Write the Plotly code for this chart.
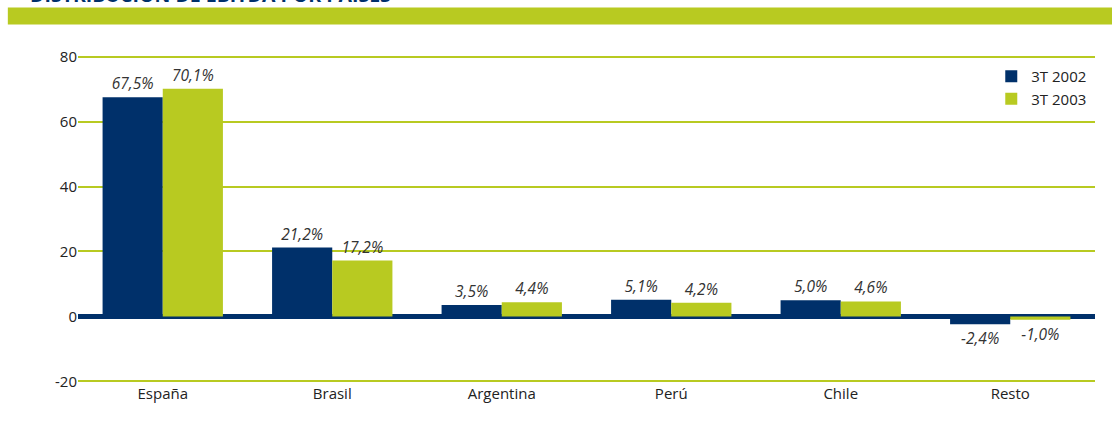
import plotly.graph_objects as go

paises = ["España", "Brasil", "Argentina", "Perú", "Chile", "Resto"]
t2002 = [67.5, 21.2, 3.5, 5.1, 5.0, -2.4]
t2003 = [70.1, 17.2, 4.4, 4.2, 4.6, -1.0]
tick_vals = [-20, 0, 20, 40, 60, 80]
tick_text = ["-20", "0", "20", "40", "60", "80"]

NAVY = "#00306A"
GREEN = "#B8CA21"

label_font = dict(size=15.5, color="#333333", style="italic", family="Open Sans")

fig = go.Figure()
fig.add_trace(go.Bar(x=paises, y=t2002, name="3T 2002", marker_color=NAVY,
                     marker_line_width=0,
                     texttemplate="%{y:.1f}%", textposition="outside",
                     textfont=label_font, cliponaxis=False))
fig.add_trace(go.Bar(x=paises, y=t2003, name="3T 2003", marker_color=GREEN,
                     marker_line_width=0,
                     texttemplate="%{y:.1f}%", textposition="outside",
                     textfont=label_font, cliponaxis=False))

# title band (page header)
fig.add_shape(type="rect", xref="paper", yref="paper",
              x0=-0.069, x1=1.02, y0=1.0929, y1=1.1449,
              fillcolor=GREEN, line_width=0, layer="below")
fig.add_annotation(text="<b>DISTRIBUCIÓN DE EBITDA POR PAÍSES</b>",
                   xref="paper", yref="paper", x=-0.049, y=1.138,
                   xanchor="left", yanchor="bottom", showarrow=False,
                   font=dict(size=19.5, color=NAVY, family="Open Sans"))

fig.update_layout(
    width=1112, height=437,
    margin=dict(l=78, r=17, t=55, b=54, autoexpand=False),
    plot_bgcolor="white", paper_bgcolor="white",
    barmode="group", bargap=0.29, bargroupgap=0,
    separators=",.",
    font=dict(family="Open Sans", size=15, color="#222222"),
    legend=dict(x=0.898, y=0.985, xanchor="left", yanchor="top",
                bgcolor="rgba(0,0,0,0)", font=dict(size=15, color="#222222"),
                itemwidth=30, tracegroupgap=4),
    showlegend=True,
)
fig.update_yaxes(range=[-20.5, 80.5], tickvals=tick_vals, ticktext=tick_text,
                 showgrid=True, gridcolor=GREEN, gridwidth=2,
                 zeroline=True, zerolinecolor=NAVY, zerolinewidth=5,
                 ticks="", tickfont=dict(size=15, color="#222222"))
fig.update_xaxes(showgrid=False, showline=False, ticks="",
                 tickfont=dict(size=15, color="#222222"))

fig.write_html("out.html", config={"displayModeBar": False},
               post_script="document.body.style.margin='0';")
